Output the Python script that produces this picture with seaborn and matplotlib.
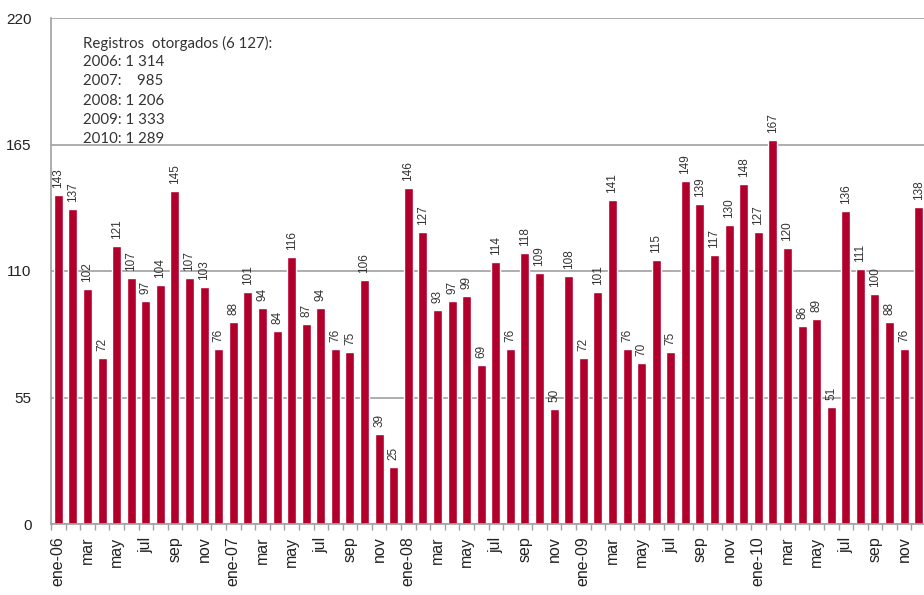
import numpy as np
import seaborn as sns
import matplotlib.pyplot as plt

# registros otorgados por mes, ene-06 .. dic-10
years = [2006, 2007, 2008, 2009, 2010]
months = ['ene', 'feb', 'mar', 'abr', 'may', 'jun', 'jul', 'ago', 'sep', 'oct', 'nov', 'dic']
v2006 = [143, 137, 102, 72, 121, 107, 97, 104, 145, 107, 103, 76]
v2007 = [88, 101, 94, 84, 116, 87, 94, 76, 75, 106, 39, 25]
v2008 = [146, 127, 93, 97, 99, 69, 114, 76, 118, 109, 50, 108]
v2009 = [72, 101, 141, 76, 70, 115, 75, 149, 139, 117, 130, 148]
v2010 = [127, 167, 120, 86, 89, 51, 136, 111, 100, 88, 76, 138]
yticks = [0, 55, 110, 165, 220]

series = [v2006, v2007, v2008, v2009, v2010]
values = [v for s in series for v in s]
labels = []
for y in years:
    for m in months:
        labels.append(f'{m}-{str(y)[2:]}' if m == 'ene' else m)
pos = list(range(len(values)))

sns.set_style('white')
plt.rcParams['font.family'] = ['Liberation Sans', 'DejaVu Sans']

fig = plt.figure(figsize=(9.24, 5.95), dpi=100)
ax = fig.add_axes([51 / 924, 71 / 595, 875 / 924, 506 / 595])

sns.barplot(x=pos, y=values, color='#b2002d', saturation=1, width=0.62, ax=ax)

for i, v in enumerate(values):
    ax.annotate(str(v), (i, v), xytext=(0, 5), textcoords='offset points',
                rotation=90, ha='center', va='bottom', fontsize=8.5, color='#333333')

ax.set_ylim(0, 220)
ax.set_xlim(-0.5, len(values) - 0.5)
ax.set_yticks(yticks)
ax.yaxis.grid(True, color='#a0a0a0', linewidth=1.2)
ax.set_axisbelow(True)
ax.tick_params(axis='y', length=0, labelsize=11, colors='#222222', pad=14)

ax.set_xticks(pos[::2])
ax.set_xticklabels(labels[::2], rotation=90, fontsize=11.5, color='#222222')
ax.set_xticks(np.arange(-0.5, len(values), 1), minor=True)
ax.tick_params(axis='x', which='major', length=0, pad=9)
ax.tick_params(axis='x', which='minor', bottom=True, length=4, color='#a0a0a0', width=1)

for side in ['top', 'right']:
    ax.spines[side].set_visible(False)
for side in ['left', 'bottom']:
    ax.spines[side].set_color('#a0a0a0')
    ax.spines[side].set_linewidth(1.2)

# caja de totales anuales
total = sum(values)
lines = [f'Registros  otorgados ({total:,}):'.replace(',', ' ')]
for y, s in zip(years, series):
    t = sum(s)
    num = f'{t:,}'.replace(',', ' ') if t >= 1000 else f'   {t}'
    lines.append(f'{y}: {num}')
for k, line in enumerate(lines):
    fig.text(83 / 924, 1 - (43 + 19.2 * k) / 595, line, fontsize=10.8,
             family=['Lato', 'DejaVu Sans'], color='#333333', va='center', ha='left')

fig.savefig('out.png', dpi=100)
